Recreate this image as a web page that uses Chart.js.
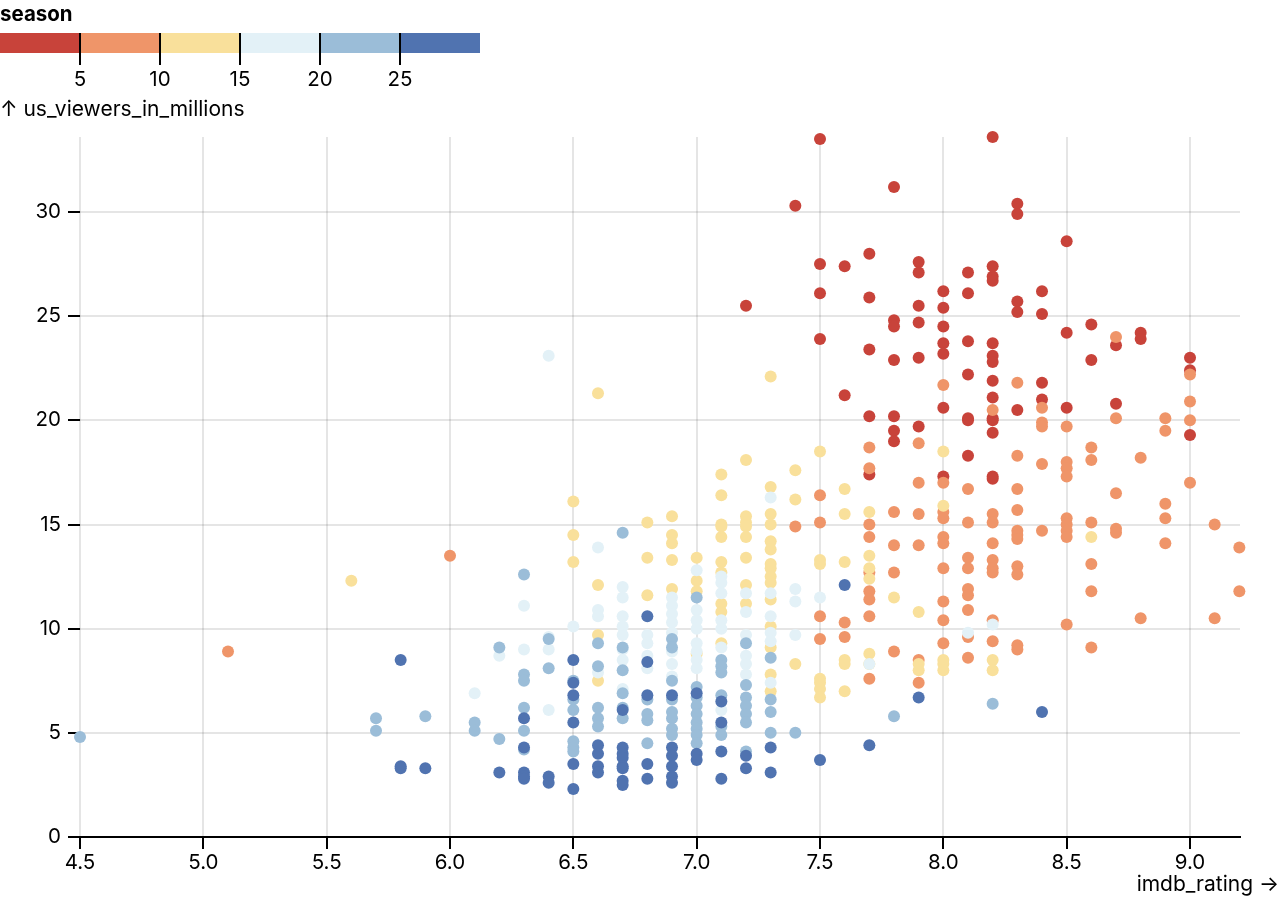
<!DOCTYPE html>
<html><head><meta charset="utf-8">
<script src="https://cdn.jsdelivr.net/npm/chart.js@4.4.1/dist/chart.umd.min.js"></script>
<style>html,body{margin:0;padding:0;background:#fff}canvas{display:block}</style>
</head><body>
<canvas id="c" width="1280" height="900"></canvas>
<script>
// ---- data ----
const seasonThresholds = [5, 10, 15, 20, 25];
const seasonColors = ['#c8433a', '#ef9569', '#f9e09b', '#e3f1f7', '#9bbdd8', '#5073b0'];
const xTicks = [4.5, 5.0, 5.5, 6.0, 6.5, 7.0, 7.5, 8.0, 8.5, 9.0];
const yTicks = [0, 5, 10, 15, 20, 25, 30];

// [imdb_rating, us_viewers_in_millions]
const seasons1to4 = [
 [7.2,25.5],[7.4,30.3],[7.5,33.5],[7.5,27.5],[7.5,26.1],[7.5,23.9],[7.6,27.4],[7.6,21.2],
 [7.7,28.0],[7.7,25.9],[7.7,23.4],[7.7,20.2],[7.7,17.4],
 [7.8,31.2],[7.8,24.8],[7.8,24.5],[7.8,22.9],[7.8,20.2],[7.8,19.5],[7.8,19.0],
 [7.9,27.6],[7.9,27.1],[7.9,25.5],[7.9,24.7],[7.9,23.0],[7.9,19.7],
 [8.0,26.2],[8.0,25.4],[8.0,24.5],[8.0,23.7],[8.0,23.2],[8.0,20.6],[8.0,17.3],
 [8.1,27.1],[8.1,26.1],[8.1,23.8],[8.1,22.2],[8.1,20.1],[8.1,20.0],[8.1,18.3],
 [8.2,33.6],[8.2,27.4],[8.2,26.9],[8.2,26.7],[8.2,23.7],[8.2,23.1],[8.2,22.8],[8.2,21.9],
 [8.2,21.1],[8.2,20.1],[8.2,20.0],[8.2,19.4],[8.2,17.3],[8.2,17.2],
 [8.3,30.4],[8.3,29.9],[8.3,25.7],[8.3,25.2],[8.3,20.5],
 [8.4,26.2],[8.4,25.1],[8.4,21.8],[8.4,21.0],
 [8.5,28.6],[8.5,24.2],[8.5,20.6],[8.6,24.6],[8.6,22.9],[8.7,23.6],[8.7,20.8],
 [8.8,24.2],[8.8,23.9],[9.0,23.0],[9.0,22.4],[9.0,19.3]
];
const seasons5to9 = [
 [5.1,8.9],[6.0,13.5],[7.4,14.9],[7.5,16.4],[7.5,15.1],[7.5,10.6],[7.5,9.5],[7.6,10.3],[7.6,9.6],
 [7.7,18.7],[7.7,17.7],[7.7,15.0],[7.7,14.4],[7.7,12.7],[7.7,11.8],[7.7,11.4],[7.7,10.6],[7.7,7.6],
 [7.8,15.6],[7.8,14.0],[7.8,12.7],[7.8,8.9],
 [7.9,18.9],[7.9,17.0],[7.9,15.5],[7.9,14.0],[7.9,8.5],[7.9,7.4],
 [8.0,21.7],[8.0,17.0],[8.0,15.6],[8.0,15.3],[8.0,14.4],[8.0,14.1],[8.0,12.9],[8.0,11.3],[8.0,10.4],[8.0,9.3],
 [8.1,16.7],[8.1,15.1],[8.1,13.4],[8.1,12.9],[8.1,11.9],[8.1,11.6],[8.1,10.9],[8.1,9.6],[8.1,8.6],
 [8.2,20.5],[8.2,15.5],[8.2,15.1],[8.2,14.1],[8.2,13.3],[8.2,12.9],[8.2,12.7],[8.2,10.4],[8.2,9.4],
 [8.3,21.8],[8.3,18.3],[8.3,16.7],[8.3,15.7],[8.3,14.7],[8.3,14.5],[8.3,14.3],[8.3,13.0],[8.3,12.6],[8.3,9.2],[8.3,9.0],
 [8.4,20.6],[8.4,19.9],[8.4,19.7],[8.4,17.9],[8.4,14.7],
 [8.5,19.7],[8.5,18.0],[8.5,17.7],[8.5,17.3],[8.5,15.3],[8.5,15.0],[8.5,14.7],[8.5,14.4],[8.5,10.2],
 [8.6,18.7],[8.6,18.1],[8.6,15.1],[8.6,13.1],[8.6,11.8],[8.6,9.1],
 [8.7,24.0],[8.7,20.1],[8.7,16.5],[8.7,14.8],[8.7,14.6],[8.8,18.2],[8.8,10.5],
 [8.9,20.1],[8.9,19.5],[8.9,16.0],[8.9,15.3],[8.9,14.1],
 [9.0,22.2],[9.0,20.9],[9.0,20.0],[9.0,17.0],[9.1,15.0],[9.1,10.5],[9.2,13.9],[9.2,11.8]
];
const seasons10to14 = [
 [5.6,12.3],[6.5,16.1],[6.5,14.5],[6.5,13.2],[6.6,21.3],[6.6,12.1],[6.6,9.7],[6.6,7.5],
 [6.8,15.1],[6.8,13.4],[6.8,11.6],[6.9,15.4],[6.9,14.5],[6.9,14.1],[6.9,13.3],[6.9,11.9],
 [7.0,13.4],[7.0,12.3],[7.0,11.8],[7.0,8.8],
 [7.1,17.4],[7.1,16.4],[7.1,15.0],[7.1,14.9],[7.1,14.4],[7.1,13.2],[7.1,12.7],[7.1,11.2],[7.1,10.8],[7.1,9.3],
 [7.2,18.1],[7.2,15.4],[7.2,15.1],[7.2,14.9],[7.2,14.4],[7.2,13.4],[7.2,12.1],[7.2,11.2],
 [7.3,22.1],[7.3,16.8],[7.3,15.5],[7.3,15.0],[7.3,14.2],[7.3,13.8],[7.3,13.1],[7.3,12.9],[7.3,12.5],
 [7.3,12.2],[7.3,11.4],[7.3,10.1],[7.3,9.1],[7.3,7.8],[7.3,7.0],
 [7.4,17.6],[7.4,16.2],[7.4,8.3],
 [7.5,18.5],[7.5,13.3],[7.5,13.1],[7.5,7.6],[7.5,7.4],[7.5,7.1],[7.5,6.7],
 [7.6,16.7],[7.6,15.5],[7.6,13.2],[7.6,8.5],[7.6,8.3],[7.6,7.0],
 [7.7,15.6],[7.7,13.5],[7.7,12.9],[7.7,12.4],[7.7,8.8],[7.7,8.3],
 [7.8,11.5],[7.9,10.8],[7.9,8.3],[7.9,8.0],
 [8.0,18.5],[8.0,15.9],[8.0,8.5],[8.0,8.3],[8.0,8.0],[8.2,8.5],[8.2,8.0],[8.6,14.4]
];
const seasons15to19 = [
 [6.1,6.9],[6.2,8.7],[6.3,11.1],[6.3,9.0],[6.4,23.1],[6.4,9.6],[6.4,9.0],[6.4,6.1],[6.5,10.1],
 [6.6,13.9],[6.6,10.9],[6.6,10.6],[6.6,7.9],
 [6.7,12.0],[6.7,11.5],[6.7,10.6],[6.7,10.1],[6.7,9.7],[6.7,9.0],[6.7,8.5],[6.7,7.1],
 [6.8,9.7],[6.8,9.3],[6.8,8.7],[6.8,8.1],
 [6.9,11.5],[6.9,11.1],[6.9,10.7],[6.9,10.3],[6.9,9.8],[6.9,8.9],[6.9,8.3],[6.9,7.7],
 [7.0,12.8],[7.0,10.9],[7.0,10.4],[7.0,10.0],[7.0,9.3],[7.0,8.9],[7.0,8.5],[7.0,8.1],
 [7.1,12.5],[7.1,12.2],[7.1,11.7],[7.1,10.4],[7.1,10.0],[7.1,9.1],[7.1,6.1],
 [7.2,11.7],[7.2,10.8],[7.2,9.7],[7.2,8.7],[7.2,8.3],[7.2,7.8],
 [7.3,16.3],[7.3,11.7],[7.3,10.6],[7.3,9.8],[7.3,9.4],[7.3,7.4],
 [7.4,11.9],[7.4,11.3],[7.4,9.7],[7.5,11.5],[7.7,8.3],[8.1,9.8],[8.2,10.2]
];
const seasons20to24 = [
 [4.5,4.8],[5.7,5.7],[5.7,5.1],[5.9,5.8],[6.1,5.5],[6.1,5.1],[6.2,9.1],[6.2,4.7],
 [6.3,12.6],[6.3,7.8],[6.3,7.5],[6.3,6.2],[6.3,5.1],[6.3,4.2],[6.4,9.5],[6.4,8.1],
 [6.5,7.5],[6.5,6.6],[6.5,6.1],[6.5,4.6],[6.5,4.3],[6.5,4.1],
 [6.6,9.3],[6.6,8.2],[6.6,6.2],[6.6,5.7],[6.6,5.3],
 [6.7,14.6],[6.7,9.1],[6.7,8.0],[6.7,6.9],[6.7,6.2],[6.7,5.7],
 [6.8,6.6],[6.8,5.9],[6.8,5.6],[6.8,4.5],
 [6.9,9.5],[6.9,9.1],[6.9,7.5],[6.9,6.6],[6.9,6.0],[6.9,5.7],[6.9,5.2],[6.9,4.9],
 [7.0,11.5],[7.0,7.2],[7.0,6.7],[7.0,6.3],[7.0,5.9],[7.0,5.5],[7.0,5.2],[7.0,4.9],[7.0,4.5],
 [7.1,8.5],[7.1,8.2],[7.1,7.9],[7.1,6.8],[7.1,5.3],[7.1,4.9],
 [7.2,9.3],[7.2,7.3],[7.2,6.7],[7.2,6.3],[7.2,5.9],[7.2,5.5],[7.2,4.1],
 [7.3,8.6],[7.3,6.6],[7.3,6.0],[7.3,5.0],[7.4,5.0],[7.8,5.8],[8.2,6.4]
];
const seasons25up = [
 [5.8,8.5],[5.8,3.4],[5.8,3.3],[5.9,3.3],[6.2,3.1],
 [6.3,5.7],[6.3,4.3],[6.3,3.1],[6.3,2.9],[6.3,2.8],[6.4,2.9],[6.4,2.6],
 [6.5,8.5],[6.5,7.4],[6.5,6.8],[6.5,5.5],[6.5,3.5],[6.5,2.3],
 [6.6,4.4],[6.6,4.0],[6.6,3.4],[6.6,3.1],
 [6.7,6.1],[6.7,4.3],[6.7,4.0],[6.7,3.8],[6.7,3.4],[6.7,3.3],[6.7,2.7],[6.7,2.5],
 [6.8,10.6],[6.8,8.4],[6.8,6.8],[6.8,3.5],[6.8,2.8],
 [6.9,6.8],[6.9,4.3],[6.9,3.9],[6.9,3.4],[6.9,2.9],[6.9,2.6],
 [7.0,6.9],[7.0,4.0],[7.0,3.7],[7.1,6.5],[7.1,5.5],[7.1,4.1],[7.1,2.8],
 [7.2,3.9],[7.2,3.3],[7.3,4.3],[7.3,3.1],[7.5,3.7],[7.6,12.1],[7.7,4.4],[7.9,6.7],[8.4,6.0]
];
const seasonGroups = [seasons1to4, seasons5to9, seasons10to14, seasons15to19, seasons20to24, seasons25up];
const groupLabels = ['< 5', '5–10', '10–15', '15–20', '20–25', '≥ 25'];

// ---- chart ----
const FONT = 'Inter, "Noto Sans", sans-serif';
const datasets = seasonGroups.map((g, i) => ({
  label: groupLabels[i],
  data: g.map(p => ({x: p[0], y: p[1]})),
  backgroundColor: seasonColors[i],
  borderWidth: 0,
  pointRadius: 6,
  pointHoverRadius: 6,
  clip: false,
  order: seasonGroups.length - i
}));

const overlay = {
  id: 'overlay',
  afterDraw(chart) {
    const ctx = chart.ctx;
    ctx.save();
    ctx.fillStyle = '#000';
    ctx.textBaseline = 'alphabetic';
    ctx.font = `bold 20.5px ${FONT}`;
    ctx.textAlign = 'left';
    ctx.fillText('season', 0, 21);
    const w = 80;
    seasonColors.forEach((c, i) => { ctx.fillStyle = c; ctx.fillRect(i * w, 33, w, 20); });
    ctx.strokeStyle = '#000'; ctx.lineWidth = 2;
    ctx.fillStyle = '#000';
    ctx.font = `20.5px ${FONT}`;
    ctx.textAlign = 'center';
    seasonThresholds.forEach((t, i) => {
      const x = (i + 1) * w;
      ctx.beginPath(); ctx.moveTo(x, 33); ctx.lineTo(x, 65); ctx.stroke();
      ctx.fillText(String(t), x, 86);
    });
    ctx.font = `21px ${FONT}`;
    ctx.textAlign = 'left';
    ctx.fillText('↑ us_viewers_in_millions', 0, 116);
    ctx.textAlign = 'right';
    ctx.fillText('imdb_rating →', 1279, 891);
    ctx.restore();
  }
};

const gridOpts = { color: 'rgba(0,0,0,0.1)', lineWidth: 2, tickColor: '#000', tickWidth: 2, tickLength: 12, drawTicks: true };

new Chart(document.getElementById('c'), {
  type: 'scatter',
  data: { datasets },
  plugins: [overlay],
  options: {
    responsive: false,
    animation: false,
    devicePixelRatio: 1,
    events: [],
    layout: { padding: { left: 0, top: 137, right: 40, bottom: 0 } },
    plugins: { legend: { display: false }, tooltip: { enabled: false } },
    scales: {
      x: {
        type: 'linear', min: 4.5, max: 9.2027,
        afterBuildTicks: s => { s.ticks = xTicks.map(v => ({value: v})); },
        afterFit: s => { s.height = 63; },
        grid: gridOpts,
        border: { display: true, color: '#000', width: 2 },
        ticks: { color: '#000', font: { family: FONT, size: 20.5 }, padding: 2, maxRotation: 0,
                 callback: v => Number(v).toFixed(1) }
      },
      y: {
        type: 'linear', min: 0, max: 33.6,
        afterBuildTicks: s => { s.ticks = yTicks.map(v => ({value: v})); },
        afterFit: s => { s.width = 80; },
        grid: gridOpts,
        border: { display: false },
        ticks: { color: '#000', font: { family: FONT, size: 20.5 }, padding: 7, callback: v => String(v) }
      }
    }
  }
});
</script>
</body></html>
